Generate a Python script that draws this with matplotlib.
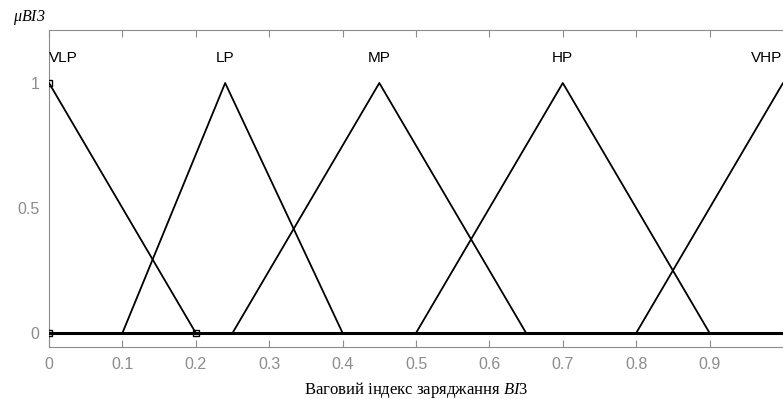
import numpy as np
import matplotlib
matplotlib.use('Agg')
import matplotlib.pyplot as plt

plt.rcParams['mathtext.fontset'] = 'custom'
plt.rcParams['mathtext.it'] = 'Liberation Serif:italic'
plt.rcParams['mathtext.rm'] = 'Liberation Serif'

# Функції належності (трикутні): ліва точка, вершина, права точка
names = ['VLP', 'LP', 'MP', 'HP', 'VHP']
mf_a = [-0.2, 0.10, 0.25, 0.50, 0.80]
mf_b = [0.00, 0.24, 0.45, 0.70, 1.00]
mf_c = [0.20, 0.40, 0.65, 0.90, 1.20]
label_x = [0.0, 0.24, 0.45, 0.70, 0.999]

x_ticks = [0, 0.1, 0.2, 0.3, 0.4, 0.5, 0.6, 0.7, 0.8, 0.9]
y_ticks = [0, 0.5, 1]

fig = plt.figure(figsize=(7.83, 3.99), dpi=100)
ax = fig.add_axes([0.0626, 0.1303, 0.9374, 0.7945])

grey = '#8c8c8c'
ax.axhline(0, color='black', lw=2.2, zorder=3)
aligns = ['left', 'center', 'center', 'center', 'right']
for i in range(len(names)):
    xs = [mf_a[i], mf_b[i], mf_c[i]]
    ax.plot(xs, [0, 1, 0], color='black', lw=1.3, zorder=4)
    ax.text(label_x[i], 1.10, names[i], ha=aligns[i], va='center',
            fontsize=11, family='Liberation Sans')

# маркери вибраної функції
ax.plot([0, 0, 0.2], [1, 0, 0], ls='none', marker='s', ms=4.5, mfc='none',
        mec='black', mew=1.0, zorder=5)

ax.set_xlim(0, 1.0)
ax.set_ylim(-0.056, 1.212)
ax.set_xticks(x_ticks)
ax.set_xticklabels([('%g' % t) for t in x_ticks])
ax.set_yticks(y_ticks)
ax.set_yticklabels(['0', '0.5', '1'])
ax.tick_params(axis='x', direction='in', top=True, length=5, color=grey,
               labelcolor=grey, labelsize=11.5, pad=7)
ax.tick_params(axis='y', direction='in', length=0, labelcolor=grey,
               labelsize=11.5, pad=7)
for lab in ax.get_xticklabels() + ax.get_yticklabels():
    lab.set_family('Liberation Sans')
for s in ['left', 'top', 'bottom']:
    ax.spines[s].set_color(grey)
ax.spines['right'].set_visible(False)

fig.text(0.017, 0.955, r'$\mu$BI3', fontsize=11.5, family='Liberation Serif',
         style='italic', va='center')
ax.set_xlabel(r'Ваговий індекс заряджання $\mathit{BI3}$', fontsize=12,
              family='Liberation Serif', labelpad=6)

plt.savefig('out.png', dpi=100)
